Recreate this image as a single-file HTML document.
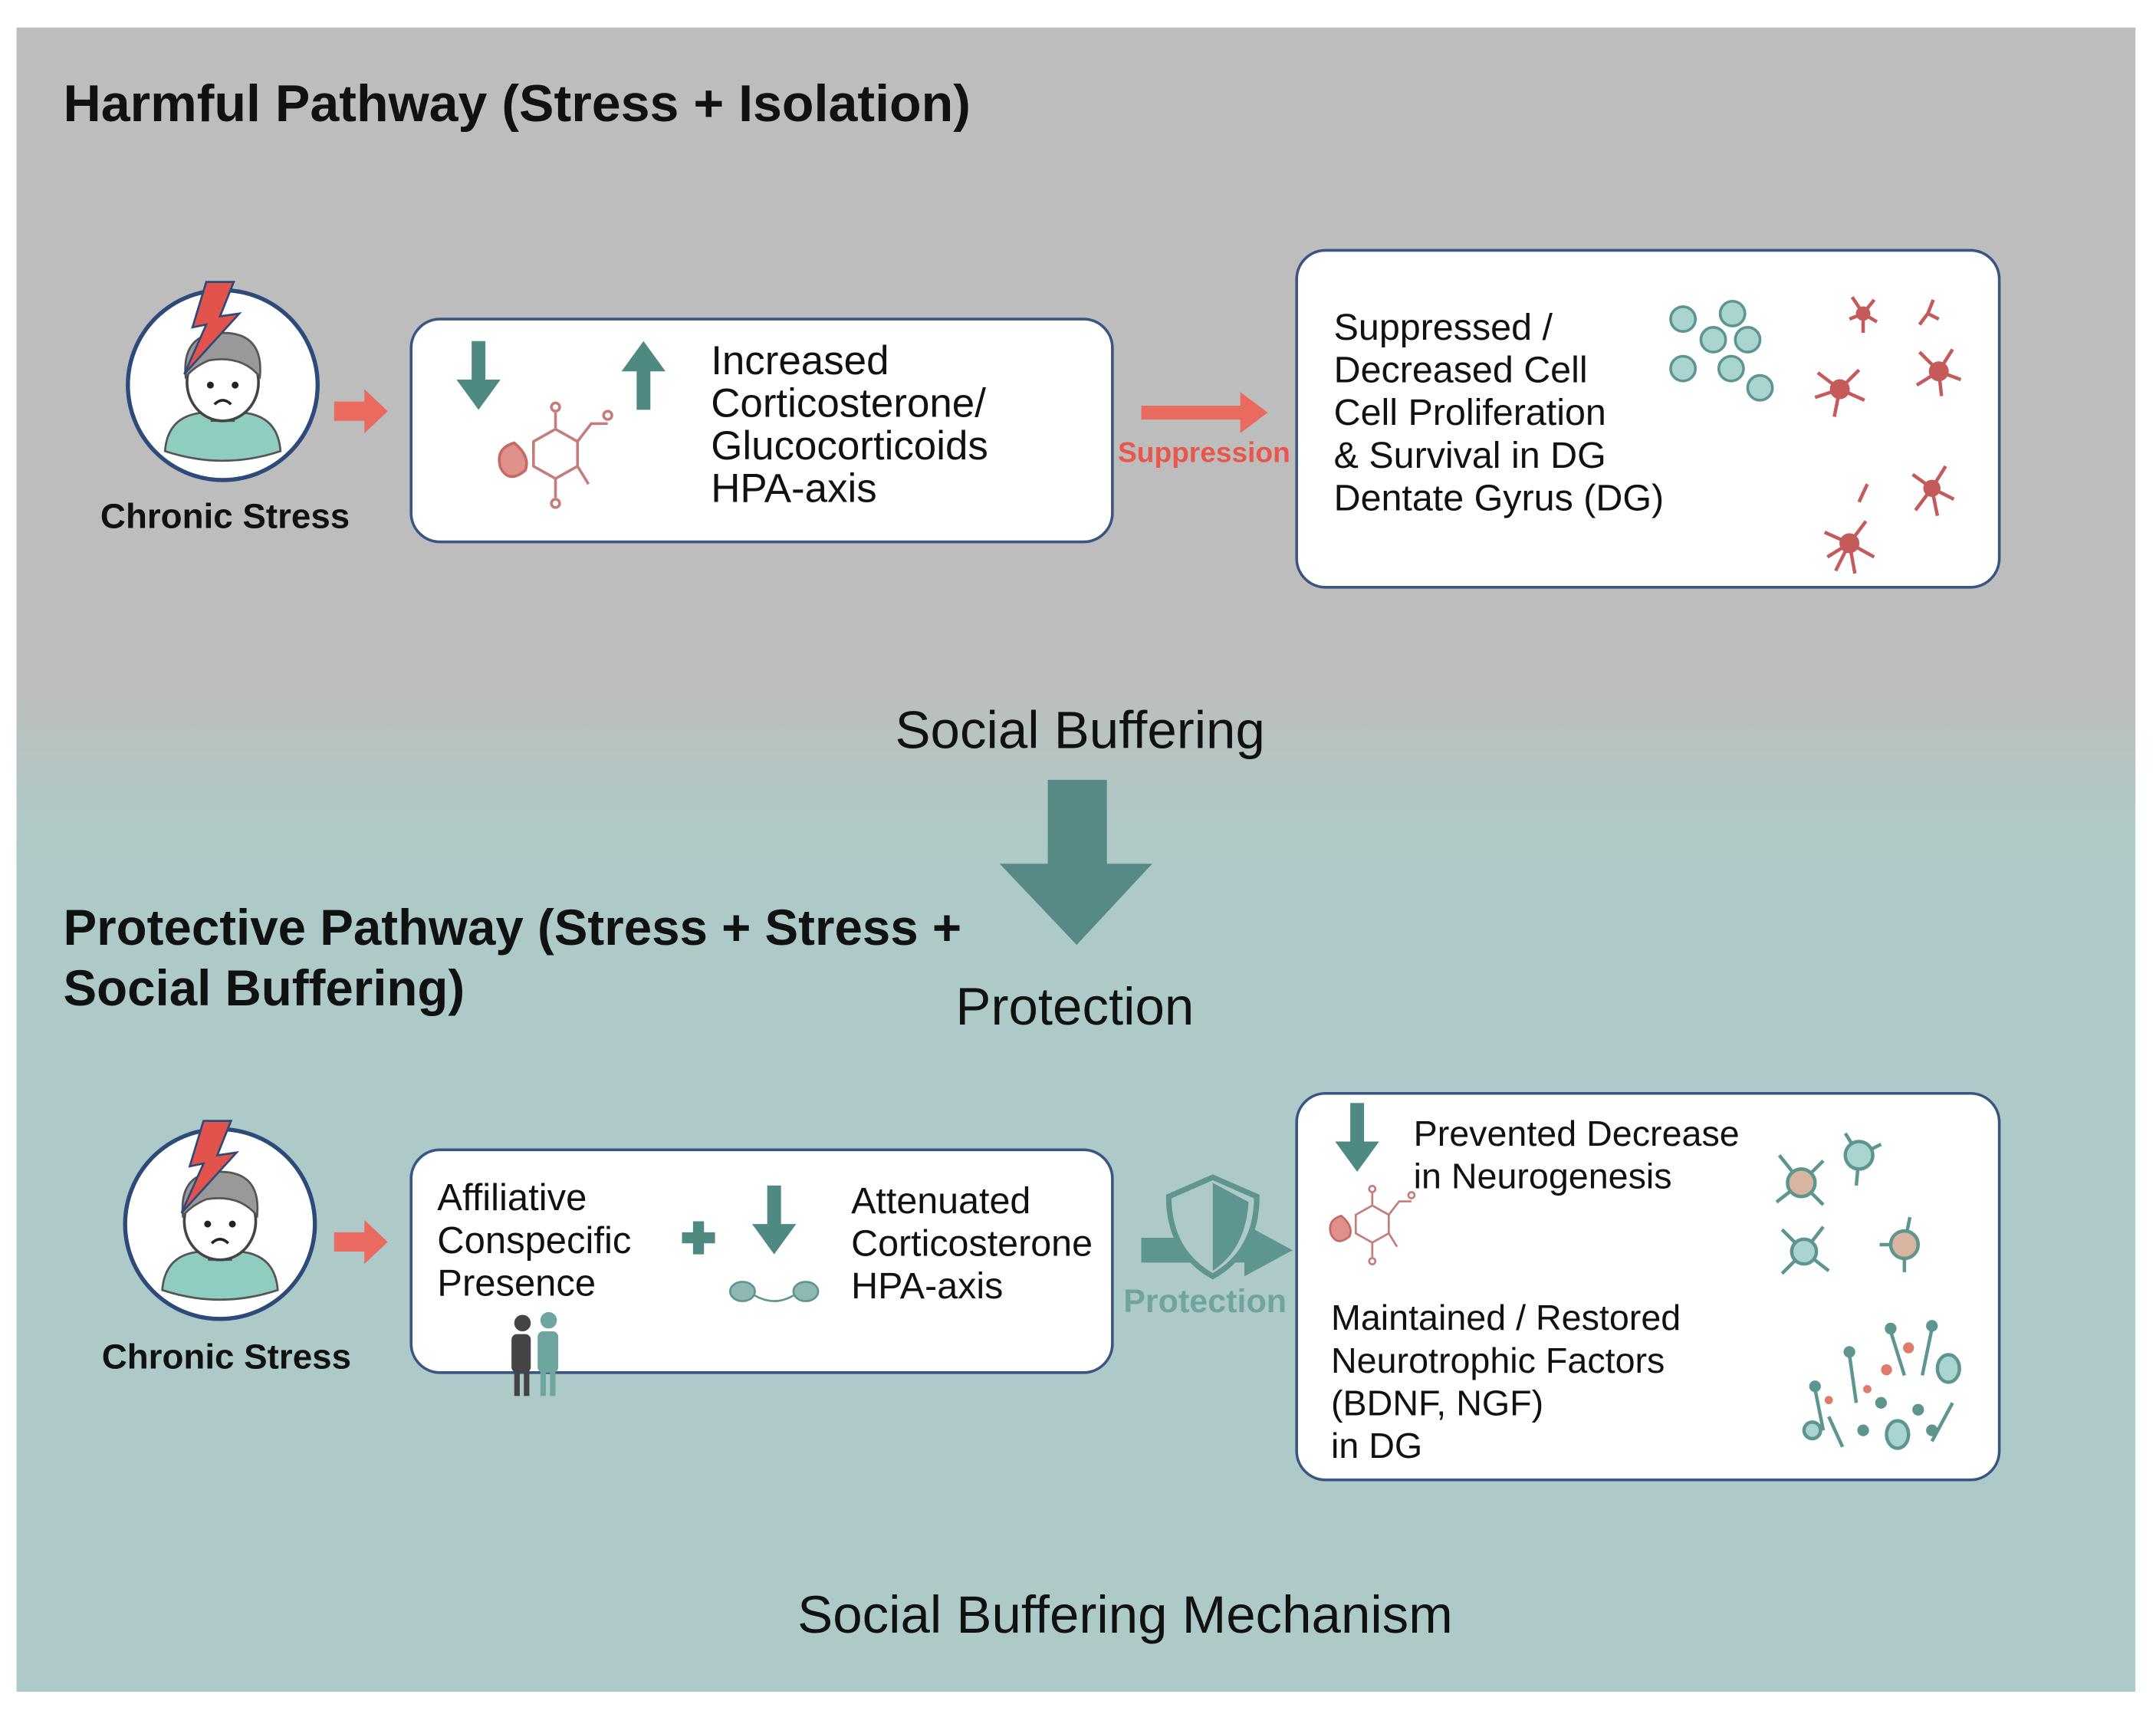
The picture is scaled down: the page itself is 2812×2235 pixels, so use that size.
<!DOCTYPE html>
<html><head><meta charset="utf-8"><style>
html,body{margin:0;padding:0;background:#fff;width:2812px;height:2234px;overflow:hidden}
#s{position:absolute;left:0;top:0;width:1568px;height:1246px;transform:scale(1.7934);transform-origin:0 0;font-family:"Liberation Sans",Arial,sans-serif;color:#111}
.p{position:absolute;white-space:nowrap}
.box{position:absolute;background:#fff;border:2px solid #3b5583;border-radius:22px;box-sizing:border-box}
.t{position:absolute;font-size:26px;line-height:31px;white-space:nowrap}
</style></head><body><div id="s">
<div style="position:absolute;left:12px;top:20px;width:1541px;height:1210px;background:linear-gradient(to bottom,#bdbdbd 0,#bdbdbd 470px,#b2c7c5 560px,#adcac8 620px,#adcac8 100%)"></div>

<div class="p" style="left:46px;top:56px;font-size:38px;font-weight:bold;line-height:40px">Harmful Pathway (Stress + Isolation)</div>

<svg style="position:absolute;left:0;top:0" width="1568" height="1246">
<defs>
<g id="kid">
<circle cx="0" cy="0" r="69" fill="#fff" stroke="#2d4a7a" stroke-width="3"/>
<path d="M-42,48 Q-40,22 -14,20 L14,20 Q40,22 42,48 Q0,62 -42,48Z" fill="#8fcdc0" stroke="#555" stroke-width="1.5"/>
<rect x="-8" y="14" width="16" height="12" fill="#fff" stroke="#555" stroke-width="1.5"/>
<ellipse cx="0" cy="-2" rx="26" ry="28" fill="#fff" stroke="#444" stroke-width="2"/>
<path d="M-27,-6 Q-30,-38 0,-38 Q30,-38 27,-6 Q14,-22 -10,-18 Q-20,-14 -27,-6Z" fill="#999" stroke="#555" stroke-width="1.5"/>
<circle cx="-9" cy="0" r="2.5" fill="#222"/><circle cx="9" cy="0" r="2.5" fill="#222"/>
<path d="M-6,14 Q0,8 6,14" fill="none" stroke="#222" stroke-width="2"/>
<path d="M-12,-75 L8,-75 L-2,-50 L12,-52 L-28,-8 L-12,-44 L-22,-42Z" fill="#e2544b" stroke="#2d4a7a" stroke-width="1.5"/>
</g>
<g id="mol" fill="none" stroke="#c47d7b" stroke-width="2">
<polygon points="0,-18 16,-9 16,9 0,18 -16,9 -16,-9"/>
<path d="M0,-18 L0,-30 M16,-9 L26,-22 L38,-22 M16,9 L24,22 M0,18 L0,32"/>
<circle cx="0" cy="-34" r="3"/><circle cx="38" cy="-28" r="3"/><circle cx="0" cy="36" r="3"/>
<path d="M-30,-8 Q-44,-4 -40,10 Q-34,22 -22,12 Q-18,2 -30,-8Z" fill="#e0908a" stroke="#c46a66"/>
</g>
</defs>
<use href="#kid" x="162" y="280"/>
<use href="#kid" x="160" y="890"/>
<path d="M243,292 L265,292 L265,283 L282,299 L265,315 L265,306 L243,306Z" fill="#ea6a5f"/>
<path d="M243,896 L265,896 L265,887 L282,903 L265,919 L265,910 L243,910Z" fill="#ea6a5f"/>
<path d="M830,295 L902,295 L902,285 L922,300 L902,315 L902,305 L830,305Z" fill="#ea6a5f"/>
<path d="M830,900 L905,900 L905,890 L940,909 L905,928 L905,918 L830,918Z" fill="#5e958f"/>
<path d="M882,856 L850,870 Q850,910 882,928 Q914,910 914,870Z" fill="#adcac8" stroke="#5e958f" stroke-width="4"/>
<path d="M882,860 L882,924 Q906,908 908,874Z" fill="#5e958f"/>
<path d="M762,567 L805,567 L805,628 L838,628 L783,687 L727,628 L762,628Z" fill="#578a85"/>
</svg>

<div class="p" style="left:73px;top:362px;font-size:25.5px;font-weight:bold">Chronic Stress</div>
<div class="p" style="left:74px;top:973px;font-size:25.5px;font-weight:bold">Chronic Stress</div>

<div class="box" style="left:298px;top:231px;width:512px;height:164px"></div>
<div class="box" style="left:942px;top:181px;width:513px;height:247px"></div>
<div class="box" style="left:298px;top:835px;width:512px;height:164px"></div>
<div class="box" style="left:942px;top:794px;width:513px;height:283px"></div>

<svg style="position:absolute;left:0;top:0" width="1568" height="1246">
<g fill="#4e8a82">
<path d="M343,248 L353,248 L353,276 L364,276 L348,298 L332,276 L343,276Z"/>
<path d="M463,298 L473,298 L473,270 L484,270 L468,248 L452,270 L463,270Z"/>
<path d="M558,862 L568,862 L568,890 L579,890 L563,912 L547,890 L558,890Z"/>
<path d="M982,802 L992,802 L992,830 L1003,830 L987,852 L971,830 L982,830Z"/>
<path d="M504,888 L512,888 L512,896 L520,896 L520,904 L512,904 L512,912 L504,912 L504,904 L496,904 L496,896 L504,896Z"/>
</g>
<use href="#mol" x="404" y="330"/>
<use href="#mol" x="998" y="890" transform="translate(998 890) scale(0.75) translate(-998 -890)"/>
<g fill="#a9d4cf" stroke="#5e958f" stroke-width="2">
<circle cx="1224" cy="232" r="9"/><circle cx="1260" cy="228" r="9"/><circle cx="1246" cy="247" r="9"/><circle cx="1271" cy="247" r="9"/><circle cx="1224" cy="268" r="9"/><circle cx="1259" cy="268" r="9"/><circle cx="1280" cy="282" r="9"/>
</g>
<g stroke="#c45a5a" stroke-width="2.5" fill="#c45a5a">
<g transform="translate(1355,228)"><circle r="4"/><path d="M0,0 L-8,-12 M0,0 L8,-10 M0,0 L0,14 M0,0 L-10,4 M0,0 L10,6"/></g>
<g transform="translate(1402,228)"><path d="M0,0 L-6,8 M0,0 L4,-10 M0,0 L8,4"/></g>
<g transform="translate(1338,283)"><circle r="6"/><path d="M0,0 L-16,-12 M0,0 L14,-14 M0,0 L-4,20 M0,0 L18,8 M0,0 L-18,6"/></g>
<g transform="translate(1410,270)"><circle r="6"/><path d="M0,0 L-14,-14 M0,0 L10,-16 M0,0 L-16,10 M0,0 L16,6 M0,0 L2,18"/></g>
<g transform="translate(1405,355)"><circle r="5"/><path d="M0,0 L-14,-10 M0,0 L10,-16 M0,0 L-12,16 M0,0 L16,8 M0,0 L4,20"/></g>
<g transform="translate(1345,395)"><circle r="6"/><path d="M0,0 L-18,-8 M0,0 L12,-16 M0,0 L-10,20 M0,0 L18,10 M0,0 L4,22 M0,0 L-16,10"/></g>
<path d="M1352,365 L1358,352" />
</g>
<g stroke="#5e958f" stroke-width="2.5" fill="#a9d4cf">
<g transform="translate(1310,860)"><path d="M0,0 L-16,-20 M0,0 L16,-16 M0,0 L-18,14 M0,0 L16,16"/><circle r="10" fill="#d9b4a0"/></g>
<g transform="translate(1352,840)"><path d="M0,0 L-10,-16 M0,0 L16,-8 M0,0 L-2,22"/><circle r="10"/></g>
<g transform="translate(1312,910)"><path d="M0,0 L-16,-16 M0,0 L14,-18 M0,0 L-16,16 M0,0 L18,14"/><circle r="9"/></g>
<g transform="translate(1385,905)"><path d="M0,0 L-18,0 M0,0 L4,-20 M0,0 L0,20"/><circle r="10" fill="#d9b4a0"/></g>
</g>
<g stroke="#5e958f" stroke-width="2.5" fill="#5e958f">
<path d="M1320,1010 L1326,1040 M1345,985 L1350,1020 M1375,968 L1385,1000 M1405,966 L1398,1000 M1330,1030 L1340,1052" fill="none"/>
<circle cx="1320" cy="1008" r="3"/><circle cx="1345" cy="983" r="3"/><circle cx="1375" cy="966" r="3"/><circle cx="1405" cy="964" r="3"/>
<circle cx="1355" cy="1040" r="3"/><circle cx="1368" cy="1020" r="3"/><circle cx="1395" cy="1025" r="3"/><circle cx="1405" cy="1040" r="3"/>
<ellipse cx="1380" cy="1043" rx="8" ry="10" fill="#a9d4cf"/><ellipse cx="1417" cy="995" rx="8" ry="10" fill="#a9d4cf"/>
<path d="M1420,1020 L1405,1048" fill="none"/><circle cx="1318" cy="1040" r="6" fill="#a9d4cf"/>
</g>
<g fill="#e07a6a"><circle cx="1330" cy="1018" r="3"/><circle cx="1372" cy="996" r="4"/><circle cx="1388" cy="980" r="4"/><circle cx="1358" cy="1010" r="3"/></g>
<g fill="#444"><circle cx="380" cy="962" r="6"/><rect x="372" y="970" width="14" height="28" rx="4"/><rect x="374" y="995" width="4" height="20"/><rect x="381" y="995" width="4" height="20"/></g>
<g fill="#6ea69f"><circle cx="399" cy="960" r="6"/><rect x="391" y="968" width="15" height="30" rx="4"/><rect x="393" y="995" width="4" height="20"/><rect x="400" y="995" width="4" height="20"/></g>
<g fill="#8fb8b2" stroke="#5e958f" stroke-width="1.5"><ellipse cx="540" cy="939" rx="9" ry="7"/><ellipse cx="586" cy="939" rx="9" ry="7"/><path d="M549,942 Q563,950 577,942" fill="none"/></g>
</svg>

<div class="t" style="left:517px;top:247px;font-size:29.5px">Increased<br>Corticosterone/<br>Glucocorticoids<br>HPA-axis</div>
<div class="p" style="left:813px;top:318px;font-size:20.7px;font-weight:bold;color:#e8564c">Suppression</div>
<div class="t" style="left:970px;top:223px;font-size:27px;line-height:31px">Suppressed /<br>Decreased Cell<br>Cell Proliferation<br>&amp; Survival in DG<br>Dentate Gyrus (DG)</div>

<div class="p" style="left:651px;top:510px;font-size:38.5px;line-height:44px">Social Buffering</div>
<div class="p" style="left:46px;top:653px;font-size:36.5px;line-height:44px;font-weight:bold">Protective Pathway (Stress + Stress +<br>Social Buffering)</div>
<div class="p" style="left:695px;top:711px;font-size:38.5px;line-height:44px">Protection</div>

<div class="t" style="left:318px;top:855px;font-size:27.3px;line-height:31px">Affiliative<br>Conspecific<br>Presence</div>
<div class="t" style="left:619px;top:858px;font-size:27px">Attenuated<br>Corticosterone<br>HPA-axis</div>
<div class="p" style="left:817px;top:933px;font-size:24px;font-weight:bold;color:#6fa59e">Protection</div>
<div class="t" style="left:1028px;top:809px;font-size:26px">Prevented Decrease<br>in Neurogenesis</div>
<div class="t" style="left:968px;top:943px;font-size:26px">Maintained / Restored<br>Neurotrophic Factors<br>(BDNF, NGF)<br>in DG</div>

<div class="p" style="left:580px;top:1153px;font-size:38.5px;line-height:44px">Social Buffering Mechanism</div>
</div></body></html>
